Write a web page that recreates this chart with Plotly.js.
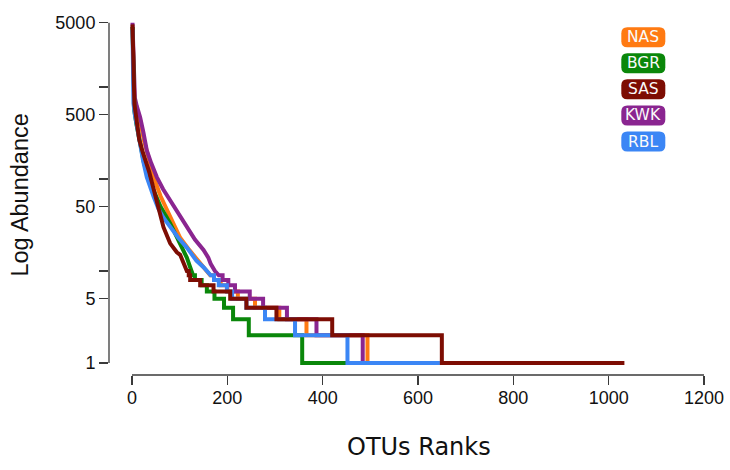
<!DOCTYPE html>
<html>
<head>
<meta charset="utf-8">
<script src="https://cdn.plot.ly/plotly-3.0.1.min.js"></script>
<style>html,body{margin:0;padding:0;background:#fff;}#chart{width:730px;height:470px;}</style>
</head>
<body>
<div id="chart"></div>
<script>
// ---- data ----
const seriesNames = ['NAS', 'BGR', 'SAS', 'KWK', 'RBL'];
const seriesColors = ['#ff7a12', '#0a870a', '#7d0d03', '#8a2590', '#3b86f5'];

// smooth head of each curve: (rank, abundance)
const nasRank = [1, 2, 3, 5, 9, 17, 25, 38, 50, 60, 73, 87, 101, 120, 143, 155];
const nasAbund = [4500, 1900, 1000, 700, 560, 434, 260, 148, 90, 65, 46, 32, 23, 17, 12, 10];
// stepped tail: integer abundance levels, rank where each level starts, last rank
const nasLevels = [9, 8, 7, 6, 5, 4, 3, 2, 1];
const nasStarts = [164, 172, 186, 200, 222, 258, 309, 366, 494];
const nasEnd = 580;

const bgrRank = [1, 2, 3, 5, 9, 17, 25, 35, 45, 60, 80, 97, 115, 122];
const bgrAbund = [4500, 1600, 800, 550, 400, 245, 150, 100, 75, 50, 33, 22, 14, 11];
const bgrLevels = [9, 8, 7, 6, 5, 4, 3, 2, 1];
const bgrStarts = [128, 132, 146, 157, 173, 193, 212, 245, 357];
const bgrEnd = 449;

const sasRank = [1, 2, 3, 5, 8, 15, 22, 29, 36, 41, 52, 60, 66, 80, 94, 101, 108];
const sasAbund = [4800, 2000, 900, 650, 500, 270, 200, 160, 120, 95, 55, 40, 30, 20, 16, 15, 12];
const sasLevels = [10, 9, 8, 7, 6, 5, 4, 3, 2, 1];
const sasStarts = [115, 119, 122, 143, 171, 206, 240, 303, 420, 650];
const sasEnd = 1033;

const kwkRank = [1, 2, 3, 4, 6, 10, 17, 24, 31, 40, 52, 65, 80, 97, 115, 132, 150, 160, 165, 174];
const kwkAbund = [5000, 2600, 1500, 1000, 760, 620, 470, 320, 205, 150, 105, 78, 59, 42, 30, 22, 17, 14, 12, 10];
const kwkLevels = [9, 8, 7, 6, 5, 4, 3, 2, 1];
const kwkStarts = [182, 190, 202, 216, 247, 275, 325, 387, 484];
const kwkEnd = 560;

const rblRank = [1, 2, 3, 6, 10, 16, 23, 31, 45, 55, 66, 80, 97, 115, 135, 150, 157];
const rblAbund = [4200, 1500, 665, 500, 400, 260, 160, 105, 65, 48, 38, 30, 23, 18, 13, 11, 10];
const rblLevels = [9, 8, 7, 6, 5, 4, 3, 2, 1];
const rblStarts = [165, 172, 182, 199, 210, 240, 279, 342, 452];
const rblEnd = 646;

const xTickVals = [0, 200, 400, 600, 800, 1000, 1200];
const yTickVals = [1, 5, 10, 50, 100, 500, 1000, 5000];
const yTickText = ['1', '5', '', '50', '', '500', '', '5000'];

// ---- build traces ----
function buildCurve(rank, abund, levels, starts, end) {
  const x = rank.slice(), y = abund.slice();
  levels.forEach((lv, i) => {
    const stop = i + 1 < starts.length ? starts[i + 1] : end;
    x.push(starts[i], stop);
    y.push(lv, lv);
  });
  return [x, y];
}
const curves = {
  NAS: buildCurve(nasRank, nasAbund, nasLevels, nasStarts, nasEnd),
  BGR: buildCurve(bgrRank, bgrAbund, bgrLevels, bgrStarts, bgrEnd),
  SAS: buildCurve(sasRank, sasAbund, sasLevels, sasStarts, sasEnd),
  KWK: buildCurve(kwkRank, kwkAbund, kwkLevels, kwkStarts, kwkEnd),
  RBL: buildCurve(rblRank, rblAbund, rblLevels, rblStarts, rblEnd)
};
const drawOrder = ['NAS', 'KWK', 'BGR', 'RBL', 'SAS'];
const traces = drawOrder.map(name => {
  const i = seriesNames.indexOf(name);
  return {
    type: 'scatter', mode: 'lines', name: name,
    x: curves[name][0], y: curves[name][1],
    line: {color: seriesColors[i], width: 4, shape: 'linear'},
    showlegend: false, hoverinfo: 'skip'
  };
});

// ---- legend: rounded coloured boxes ----
function roundRect(w, h, r) {
  const a = w / 2, b = h / 2;
  return `M ${-a + r},${-b} H ${a - r} Q ${a},${-b} ${a},${-b + r} V ${b - r} Q ${a},${b} ${a - r},${b} ` +
         `H ${-a + r} Q ${-a},${b} ${-a},${b - r} V ${-b + r} Q ${-a},${-b} ${-a + r},${-b} Z`;
}
const legX = 0.898;
const legY0 = 0.949, legStep = 0.0733;
const shapes = [];
const annotations = [];
seriesNames.forEach((name, i) => {
  const yy = legY0 - i * legStep;
  shapes.push({
    type: 'path', xref: 'paper', yref: 'paper',
    xsizemode: 'pixel', ysizemode: 'pixel', xanchor: legX, yanchor: yy,
    path: roundRect(44, 20, 6),
    fillcolor: seriesColors[i], line: {width: 0}
  });
  annotations.push({
    xref: 'paper', yref: 'paper', x: legX, y: yy, xanchor: 'center', yanchor: 'middle',
    text: name, showarrow: false,
    font: {family: 'DejaVu Sans', size: 15.5, color: '#fafafa'}
  });
});

// axis lines spanning only the tick range (R style)
shapes.push({type: 'line', xref: 'paper', yref: 'y', x0: 0, x1: 0,
  y0: yTickVals[0], y1: yTickVals[yTickVals.length - 1],
  line: {color: '#3a3a3a', width: 1.3}});
shapes.push({type: 'line', xref: 'x', yref: 'paper', y0: 0, y1: 0,
  x0: xTickVals[0], x1: xTickVals[xTickVals.length - 1],
  line: {color: '#3a3a3a', width: 1.3}});

// axis titles
annotations.push({xref: 'paper', yref: 'paper', x: 0.521, y: -0.203, xanchor: 'center', yanchor: 'middle',
  text: 'OTUs Ranks', showarrow: false, font: {family: 'DejaVu Sans', size: 24, color: '#111'}});
annotations.push({xref: 'paper', yref: 'paper', x: -0.149, y: 0.505, xanchor: 'center', yanchor: 'middle',
  textangle: -90, text: 'Log Abundance', showarrow: false,
  font: {family: 'Liberation Sans', size: 23.5, color: '#111'}});

const layout = {
  width: 730, height: 470,
  margin: {l: 109, r: 26, t: 19, b: 95.3, pad: 0},
  paper_bgcolor: '#ffffff', plot_bgcolor: '#ffffff',
  showlegend: false,
  xaxis: {
    range: [-48.3, 1200], showgrid: false, zeroline: false, showline: false,
    tickmode: 'array', tickvals: xTickVals, ticks: 'outside', ticklen: 9, tickwidth: 1.3, tickcolor: '#3a3a3a',
    ticklabelstandoff: -3,
    tickfont: {family: 'Liberation Sans', size: 18, color: '#111'}
  },
  yaxis: {
    type: 'log', range: [-0.13, 3.74], showgrid: false, zeroline: false, showline: false,
    tickmode: 'array', tickvals: yTickVals, ticktext: yTickText,
    ticks: 'outside', ticklen: 9, tickwidth: 1.3, tickcolor: '#3a3a3a',
    tickfont: {family: 'Liberation Sans', size: 18, color: '#111'}
  },
  shapes: shapes,
  annotations: annotations
};

Plotly.newPlot('chart', traces, layout, {staticPlot: true, displayModeBar: false});
</script>
</body>
</html>
